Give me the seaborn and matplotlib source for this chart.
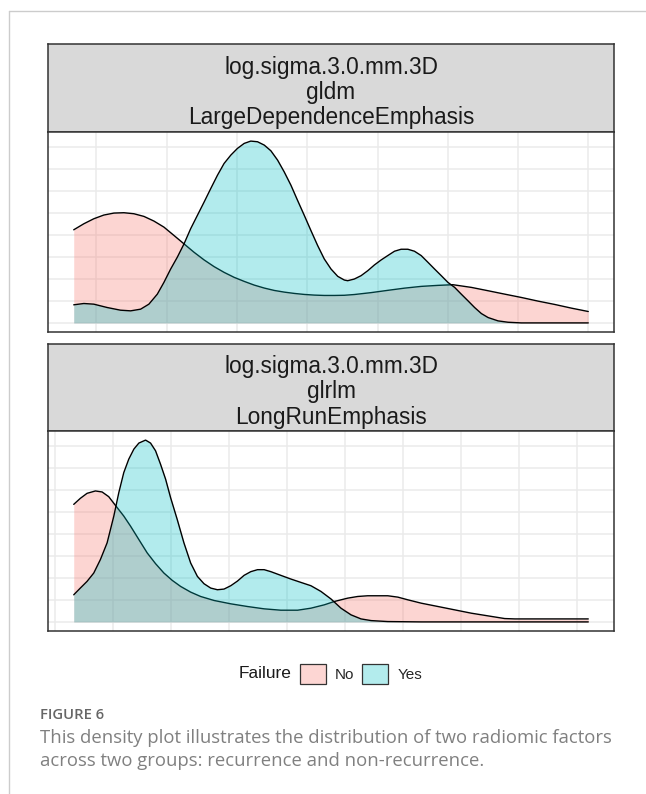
import numpy as np
import pandas as pd
import matplotlib.pyplot as plt
import seaborn as sns
from matplotlib.patches import Patch
from matplotlib.lines import Line2D
from matplotlib.colors import to_rgb
from matplotlib.ticker import MultipleLocator

# facetas (rótulos das tiras)
facetas = [
    "log.sigma.3.0.mm.3D\ngldm\nLargeDependenceEmphasis",
    "log.sigma.3.0.mm.3D\nglrlm\nLongRunEmphasis",
]
grupos = ["No", "Yes"]
cores = {"No": "#F8766D", "Yes": "#00BFC4"}

# curvas de densidade - painel 1 (gldm LargeDependenceEmphasis)
lde_no_x = [0.838, 0.910, 0.981, 1.052, 1.124, 1.195, 1.266, 1.338, 1.409, 1.480,
            1.552, 1.623, 1.694, 1.766, 1.837, 1.908, 1.980, 2.051, 2.122, 2.194,
            2.265, 2.336, 2.408, 2.479, 2.550, 2.621, 2.693, 2.764, 2.835, 2.954,
            3.073, 3.192, 3.311, 3.430, 3.537, 3.668, 3.787, 3.905, 4.024, 4.143,
            4.262, 4.381, 4.500]
lde_no_y = [2.116, 2.253, 2.367, 2.451, 2.496, 2.504, 2.481, 2.420, 2.314, 2.177,
            1.986, 1.796, 1.606, 1.431, 1.279, 1.149, 1.035, 0.944, 0.860, 0.792,
            0.738, 0.700, 0.670, 0.647, 0.632, 0.624, 0.624, 0.628, 0.645, 0.688,
            0.740, 0.790, 0.830, 0.853, 0.868, 0.807, 0.731, 0.654, 0.578, 0.495,
            0.419, 0.335, 0.259]
lde_yes_x = [0.838, 0.910, 0.981, 1.076, 1.171, 1.243, 1.314, 1.373, 1.433, 1.480,
             1.528, 1.575, 1.623, 1.670, 1.718, 1.766, 1.813, 1.861, 1.908, 1.956,
             2.003, 2.051, 2.098, 2.146, 2.194, 2.241, 2.289, 2.336, 2.384, 2.431,
             2.479, 2.526, 2.574, 2.621, 2.669, 2.717, 2.764, 2.788, 2.835, 2.883,
             2.931, 2.978, 3.026, 3.073, 3.121, 3.168, 3.216, 3.263, 3.311, 3.359,
             3.406, 3.454, 3.501, 3.549, 3.596, 3.644, 3.691, 3.739, 3.787, 3.858,
             3.929, 4.024, 4.500]
lde_yes_y = [0.411, 0.441, 0.426, 0.350, 0.289, 0.274, 0.312, 0.426, 0.654, 0.921,
             1.225, 1.492, 1.796, 2.139, 2.443, 2.747, 3.052, 3.356, 3.623, 3.813,
             3.965, 4.079, 4.132, 4.117, 4.041, 3.912, 3.699, 3.432, 3.128, 2.785,
             2.443, 2.100, 1.758, 1.454, 1.225, 1.058, 0.974, 0.959, 0.997, 1.073,
             1.187, 1.317, 1.431, 1.530, 1.629, 1.674, 1.674, 1.629, 1.530, 1.377,
             1.225, 1.073, 0.921, 0.807, 0.654, 0.502, 0.350, 0.213, 0.122, 0.046,
             0.015, 0.0, 0.0]

# painel 2 (glrlm LongRunEmphasis)
lre_no_x = [1.159, 1.216, 1.274, 1.346, 1.404, 1.461, 1.519, 1.591, 1.649, 1.721,
            1.793, 1.865, 1.937, 2.009, 2.081, 2.168, 2.254, 2.370, 2.514, 2.658,
            2.802, 2.946, 3.091, 3.206, 3.321, 3.408, 3.523, 3.610, 3.696, 3.869,
            3.956, 4.042, 4.157, 4.302, 4.446, 4.590, 4.734, 4.878, 4.965, 5.599]
lre_no_y = [2.671, 2.808, 2.922, 2.976, 2.953, 2.846, 2.648, 2.405, 2.177, 1.872,
            1.568, 1.324, 1.111, 0.944, 0.807, 0.677, 0.578, 0.487, 0.411, 0.350,
            0.297, 0.266, 0.266, 0.312, 0.388, 0.464, 0.540, 0.578, 0.594, 0.594,
            0.563, 0.502, 0.426, 0.350, 0.274, 0.198, 0.137, 0.076, 0.068, 0.068]
lre_yes_x = [1.159, 1.216, 1.274, 1.332, 1.389, 1.447, 1.505, 1.548, 1.591, 1.634,
             1.678, 1.721, 1.779, 1.822, 1.865, 1.908, 1.952, 1.995, 2.052, 2.110,
             2.168, 2.226, 2.283, 2.341, 2.399, 2.456, 2.514, 2.572, 2.629, 2.687,
             2.745, 2.802, 2.860, 2.946, 3.033, 3.119, 3.206, 3.292, 3.379, 3.465,
             3.552, 3.638, 3.725, 3.869, 4.157, 5.599]
lre_yes_y = [0.616, 0.769, 0.921, 1.111, 1.416, 1.796, 2.405, 2.938, 3.394, 3.699,
             3.927, 4.064, 4.132, 4.064, 3.889, 3.584, 3.242, 2.823, 2.329, 1.796,
             1.339, 1.035, 0.868, 0.769, 0.731, 0.746, 0.822, 0.928, 1.058, 1.142,
             1.187, 1.187, 1.142, 1.058, 0.974, 0.898, 0.822, 0.693, 0.521, 0.312,
             0.160, 0.068, 0.030, 0.008, 0.0, 0.0]


def monta_df(no_x, no_y, yes_x, yes_y):
    a = pd.DataFrame({"x": no_x, "density": no_y, "Failure": "No"})
    b = pd.DataFrame({"x": yes_x, "density": yes_y, "Failure": "Yes"})
    return pd.concat([a, b], ignore_index=True)


dados = [
    monta_df(lde_no_x, lde_no_y, lde_yes_x, lde_yes_y),
    monta_df(lre_no_x, lre_no_y, lre_yes_x, lre_yes_y),
]

sns.set_theme(style="white")
plt.rcParams["font.family"] = ["Liberation Sans", "DejaVu Sans"]

W, H = 646, 794
fig = plt.figure(figsize=(W / 100, H / 100), dpi=100)


def caixa(x0, y0, x1, y1):
    # converte pixels (topo-esquerda) para fração da figura
    return [x0 / W, 1 - y1 / H, (x1 - x0) / W, (y1 - y0) / H]


# (topo da tira, base da tira, base do painel)
posicoes = [(44, 132, 332), (344, 431, 631)]
cor_borda = "#333333"

for rotulo, df, (t0, t1, p1) in zip(facetas, dados, posicoes):
    # tira cinza com o nome da variável
    tira = fig.add_axes(caixa(48, t0, 614, t1))
    tira.set_facecolor("#D9D9D9")
    tira.set_xticks([])
    tira.set_yticks([])
    for s in tira.spines.values():
        s.set_color(cor_borda)
        s.set_linewidth(1.1)
    tira.text(0.5, 0.45, rotulo, ha="center", va="center", fontsize=16.3,
              linespacing=1.12, color="#1A1A1A", transform=tira.transAxes)

    ax = fig.add_axes(caixa(48, t1, 614, p1))
    for i, g in enumerate(grupos):
        sub = df[df["Failure"] == g]
        ax.fill_between(sub["x"], sub["density"], 0, color=cores[g], alpha=0.3,
                        linewidth=0, zorder=2 + i)
        sns.lineplot(data=sub, x="x", y="density", color="black", linewidth=1.0,
                     estimator=None, ax=ax, zorder=2.5 + i)

    # expansão de 5% como no ggplot
    xmin, xmax = df["x"].min(), df["x"].max()
    ymax = df["density"].max()
    dx = 0.05 * (xmax - xmin)
    ax.set_xlim(xmin - dx, xmax + dx)
    ax.set_ylim(-0.05 * ymax, 1.05 * ymax)
    ax.xaxis.set_major_locator(MultipleLocator(0.5))
    ax.yaxis.set_major_locator(MultipleLocator(0.5))
    ax.grid(True, color="#EBEBEB", linewidth=1.1, zorder=0)
    ax.set_axisbelow(True)
    ax.tick_params(length=0, labelbottom=False, labelleft=False)
    ax.set_xlabel("")
    ax.set_ylabel("")
    for s in ax.spines.values():
        s.set_color(cor_borda)
        s.set_linewidth(1.1)

# legenda
fig.text(292 / W, 1 - 674 / H, "Failure", ha="right", va="center", fontsize=12.4,
         color="#1A1A1A")
# cor da caixa = cor com alpha 0.3 sobre branco, borda escura opaca
alcas = [Patch(facecolor=0.7 * np.ones(3) + 0.3 * np.array(to_rgb(cores[g])),
               edgecolor="#333333", linewidth=0.9) for g in grupos]
fig.legend(alcas, grupos, loc="center left", bbox_to_anchor=(300 / W, 1 - 674 / H),
           ncol=2, frameon=False, fontsize=11, handlelength=1.7, handleheight=1.7,
           handletextpad=0.6, columnspacing=0.5, borderpad=0, borderaxespad=0)

# legenda da figura (texto do artigo)
fig.text(40 / W, 1 - 715 / H, "FIGURE 6", fontsize=10.7, fontweight="semibold",
         color="#666666", family="Open Sans", va="center")
fig.text(40 / W, 1 - 738 / H,
         "This density plot illustrates the distribution of two radiomic factors",
         fontsize=13.3, color="#808080", family="Open Sans", va="center")
fig.text(40 / W, 1 - 761 / H,
         "across two groups: recurrence and non-recurrence.",
         fontsize=13.3, color="#808080", family="Open Sans", va="center")

# moldura clara da página
fig.add_artist(Line2D([9 / W, 1], [1 - 11 / H, 1 - 11 / H], color="#CCCCCC",
                      linewidth=1, transform=fig.transFigure))
fig.add_artist(Line2D([9 / W, 9 / W], [0, 1 - 11 / H], color="#CCCCCC",
                      linewidth=1, transform=fig.transFigure))

fig.savefig("out.png", dpi=100)
